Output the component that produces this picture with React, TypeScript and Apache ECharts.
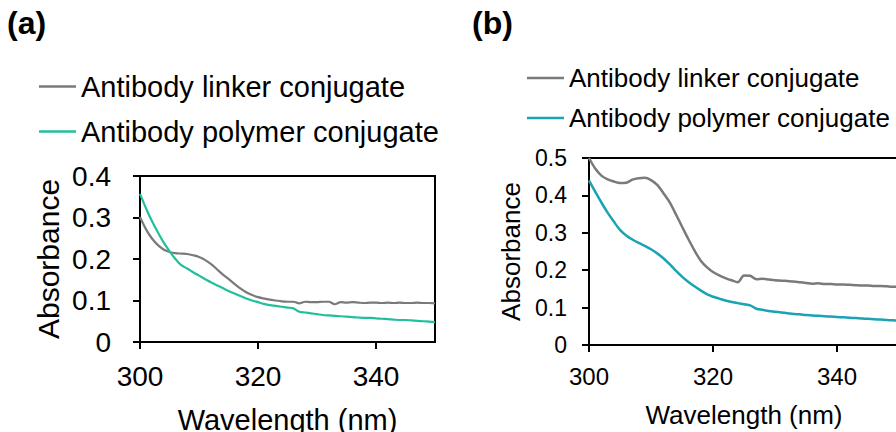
import React, { useEffect, useRef } from "react";
import * as echarts from "echarts";

// Wavelength grid (nm) shared by every spectrum
const wavelengths = [
  300, 301, 302, 303, 304, 305, 306, 307, 308, 309,
  310, 311, 312, 313, 314, 315, 316, 317, 318, 319,
  320, 321, 322, 323, 324, 325, 326, 327, 328, 329,
  330, 331, 332, 333, 334, 335, 336, 337, 338, 339,
  340, 341, 342, 343, 344, 345, 346, 347, 348, 349, 350,
];

// Panel (a) absorbance
const linkerA = [
  0.301, 0.272, 0.25, 0.234, 0.223, 0.217, 0.214, 0.213, 0.212, 0.209,
  0.205, 0.198, 0.188, 0.176, 0.163, 0.152, 0.14, 0.129, 0.12, 0.113,
  0.108, 0.105, 0.102, 0.1, 0.098, 0.097, 0.097, 0.093, 0.097, 0.096,
  0.096, 0.097, 0.097, 0.091, 0.096, 0.095, 0.096, 0.095, 0.094, 0.095,
  0.095, 0.094, 0.095, 0.094, 0.095, 0.094, 0.094, 0.095, 0.094, 0.094, 0.093,
];
const polymerA = [
  0.357, 0.323, 0.292, 0.265, 0.24, 0.219, 0.2, 0.185, 0.177, 0.168,
  0.16, 0.152, 0.144, 0.137, 0.13, 0.123, 0.117, 0.111, 0.105, 0.1,
  0.096, 0.092, 0.089, 0.087, 0.085, 0.083, 0.081, 0.073, 0.071, 0.069,
  0.067, 0.065, 0.064, 0.063, 0.062, 0.061, 0.06, 0.059, 0.058, 0.058,
  0.057, 0.056, 0.055, 0.054, 0.053, 0.053, 0.052, 0.051, 0.05, 0.049, 0.048,
];

// Panel (b) absorbance
const linkerB = [
  0.5, 0.472, 0.453, 0.443, 0.437, 0.433, 0.434, 0.442, 0.446, 0.447,
  0.441, 0.428, 0.406, 0.382, 0.35, 0.317, 0.284, 0.253, 0.226, 0.208,
  0.195, 0.186, 0.179, 0.173, 0.168, 0.186, 0.185, 0.176, 0.177, 0.175,
  0.173, 0.172, 0.171, 0.17, 0.168, 0.166, 0.164, 0.165, 0.163, 0.163,
  0.162, 0.162, 0.161, 0.16, 0.159, 0.159, 0.158, 0.158, 0.157, 0.156, 0.156,
];
const polymerB = [
  0.44, 0.41, 0.381, 0.354, 0.33, 0.308, 0.293, 0.282, 0.273, 0.265,
  0.256, 0.245, 0.232, 0.216, 0.199, 0.183, 0.169, 0.157, 0.146, 0.136,
  0.129, 0.124, 0.119, 0.115, 0.112, 0.109, 0.106, 0.097, 0.094, 0.091,
  0.089, 0.087, 0.085, 0.083, 0.082, 0.08, 0.079, 0.078, 0.077, 0.076,
  0.075, 0.074, 0.073, 0.072, 0.071, 0.07, 0.069, 0.068, 0.067, 0.066, 0.065,
];

const xTicks = [300, 320, 340];
const linkerLabel = "Antibody linker conjugate";
const polymerLabel = "Antibody polymer conjugate";

const FONT = "'Liberation Sans', Arial, sans-serif";
const GRAY = "#7a7a7a";
const GREEN = "#22bf9c";
const TEAL = "#19a3b3";

const legendNames: Record<string, string> = {
  linkerA: linkerLabel,
  polymerA: polymerLabel,
  linkerB: linkerLabel,
  polymerB: polymerLabel,
};

const pairs = (ys: number[]) => wavelengths.map((w, i) => [w, ys[i]]);

function xAxis(gridIndex: number, fontSize: number, margin: number, nameSize: number, nameGap: number) {
  return {
    type: "value",
    gridIndex,
    min: 300,
    max: 350,
    interval: 20,
    name: "Wavelength (nm)",
    nameLocation: "middle",
    nameGap,
    nameTextStyle: { fontSize: nameSize, color: "#000", fontFamily: FONT },
    splitLine: { show: false },
    axisLine: { show: true, lineStyle: { color: "#000", width: 2 } },
    axisTick: { show: true, inside: false, length: 7, customValues: xTicks, lineStyle: { color: "#000", width: 2 } },
    axisLabel: { fontSize, color: "#000", fontFamily: FONT, margin, customValues: xTicks },
  };
}

function yAxis(gridIndex: number, max: number, fontSize: number, margin: number, nameSize: number, nameGap: number) {
  return {
    type: "value",
    gridIndex,
    min: 0,
    max,
    interval: 0.1,
    name: "Absorbance",
    nameLocation: "middle",
    nameGap,
    nameTextStyle: { fontSize: nameSize, color: "#000", fontFamily: FONT },
    splitLine: { show: false },
    axisLine: { show: true, lineStyle: { color: "#000", width: 2 } },
    axisTick: { show: true, inside: false, length: 7, lineStyle: { color: "#000", width: 2 } },
    axisLabel: {
      fontSize,
      color: "#000",
      fontFamily: FONT,
      margin,
      formatter: (v: number) => String(Math.round(v * 10) / 10),
    },
  };
}

function line(name: string, ys: number[], color: string, idx: number, width: number) {
  return {
    name,
    type: "line",
    xAxisIndex: idx,
    yAxisIndex: idx,
    data: pairs(ys),
    showSymbol: false,
    smooth: 0.3,
    color,
    lineStyle: { color, width },
  };
}

export default function App() {
  const ref = useRef<HTMLDivElement>(null);

  useEffect(() => {
    if (!ref.current) return;
    const chart = echarts.init(ref.current, null, { renderer: "svg" });
    chart.setOption({
      animation: false,
      backgroundColor: "#fff",
      title: [
        { text: "(a)", left: 7, top: 7, padding: 0, textStyle: { fontSize: 32, fontWeight: "bold", color: "#000", fontFamily: FONT } },
        { text: "(b)", left: 472, top: 7, padding: 0, textStyle: { fontSize: 32, fontWeight: "bold", color: "#000", fontFamily: FONT } },
      ],
      legend: [
        {
          data: ["linkerA", "polymerA"],
          orient: "vertical",
          left: 39,
          top: 72,
          padding: 0,
          icon: "rect",
          itemWidth: 37,
          itemHeight: 2.5,
          itemGap: 16,
          selectedMode: false,
          formatter: (n: string) => legendNames[n],
          textStyle: { fontSize: 29, color: "#000", fontFamily: FONT },
        },
        {
          data: ["linkerB", "polymerB"],
          orient: "vertical",
          left: 527,
          top: 65,
          padding: 0,
          icon: "rect",
          itemWidth: 37,
          itemHeight: 2.5,
          itemGap: 14,
          selectedMode: false,
          formatter: (n: string) => legendNames[n],
          textStyle: { fontSize: 26, color: "#000", fontFamily: FONT },
        },
      ],
      grid: [
        { left: 140, top: 176, width: 295, height: 166, show: true, borderColor: "#000", borderWidth: 2, backgroundColor: "transparent", outerBoundsMode: "none" },
        { left: 589, top: 158, width: 310, height: 187, show: true, borderColor: "#000", borderWidth: 2, backgroundColor: "transparent", outerBoundsMode: "none" },
      ],
      xAxis: [xAxis(0, 28, 20, 29, 63), xAxis(1, 24, 19, 26, 57)],
      yAxis: [yAxis(0, 0.4, 28, 29, 30, 77), yAxis(1, 0.5, 23, 22, 26, 65)],
      series: [
        line("linkerA", linkerA, GRAY, 0, 2.2),
        line("polymerA", polymerA, GREEN, 0, 2.2),
        line("linkerB", linkerB, GRAY, 1, 2.5),
        line("polymerB", polymerB, TEAL, 1, 2.5),
      ],
    });
    return () => chart.dispose();
  }, []);

  return (
    <div
      ref={ref}
      style={{ position: "fixed", left: 0, top: 0, width: 896, height: 432, background: "#fff" }}
    />
  );
}
